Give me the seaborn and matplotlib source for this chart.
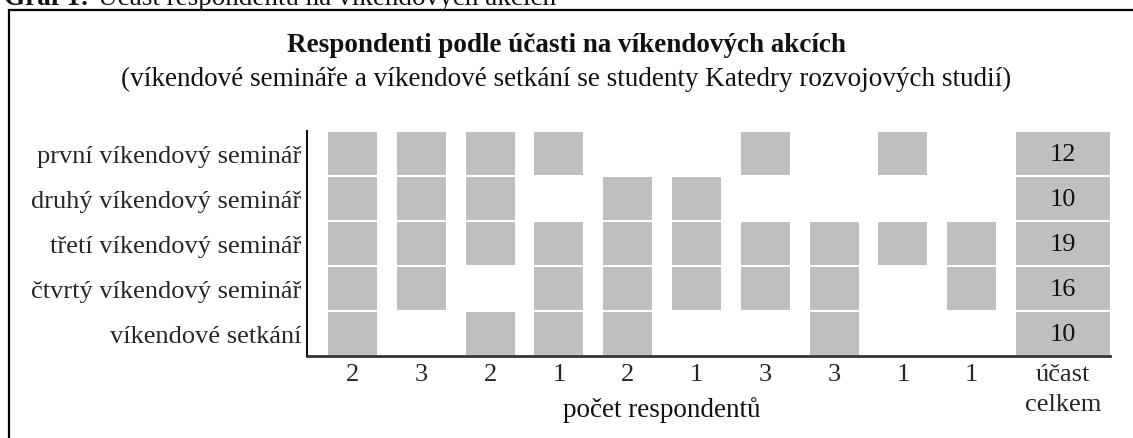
import matplotlib.pyplot as plt
import pandas as pd
import seaborn as sns
from matplotlib.patches import Rectangle
from matplotlib.transforms import blended_transform_factory

# values
events = [
    "první víkendový seminář",
    "druhý víkendový seminář",
    "třetí víkendový seminář",
    "čtvrtý víkendový seminář",
    "víkendové setkání",
]
group_sizes = [2, 3, 2, 1, 2, 1, 3, 3, 1, 1]
attendance = [
    [1, 1, 1, 1, 0, 0, 1, 0, 1, 0],
    [1, 1, 1, 0, 1, 1, 0, 0, 0, 0],
    [1, 1, 1, 1, 1, 1, 1, 1, 1, 1],
    [1, 1, 0, 1, 1, 1, 1, 1, 0, 1],
    [1, 0, 1, 1, 1, 0, 0, 1, 0, 0],
]
totals = [12, 10, 19, 16, 10]
total_label = "účast\ncelkem"

W, H = 1133, 439
GRAY = "#bfbfbf"

sns.set_theme(style="white")
plt.rcParams["font.family"] = ["Liberation Serif", "DejaVu Serif"]
plt.rcParams["text.color"] = "#111111"

rows = []
for r, event in enumerate(events):
    for g, present in enumerate(attendance[r]):
        rows.append({"event": event, "row": len(events) - 1 - r, "group": g, "present": present})
cells = pd.DataFrame(rows)
cells = cells[cells["present"] == 1]

fig = plt.figure(figsize=(W / 100, H / 100), dpi=100)
ax = fig.add_axes([307 / W, (H - 357) / H, (1110 - 307) / W, 225 / H])

ax.bar(cells["group"], 0.955, bottom=cells["row"] + 0.02, width=0.71, color=GRAY, linewidth=0)

total_x = 10.33
total_rows = [len(events) - 1 - r for r in range(len(events))]
ax.bar([total_x] * len(totals), 0.955, bottom=[y + 0.02 for y in total_rows], width=1.37,
       color=GRAY, linewidth=0)
for y, t in zip(total_rows, totals):
    ax.text(total_x, y + 0.48, str(t), ha="center", va="center", fontsize=19)

ax.set_xlim(-0.661, 11.01)
ax.set_ylim(0, len(events))
ax.set_yticks([y + 0.5 for y in total_rows])
ax.set_yticklabels(events, fontsize=19)
ax.set_xticks(list(range(len(group_sizes))) + [total_x])
ax.set_xticklabels([str(s) for s in group_sizes] + [total_label], fontsize=19)
for lab in ax.get_xticklabels():
    lab.set_linespacing(1.5)
ax.tick_params(axis="both", length=0)
ax.tick_params(axis="x", pad=5)
ax.tick_params(axis="y", pad=4)
sns.despine(ax=ax)
ax.spines["left"].set_color("#111111")
ax.spines["left"].set_linewidth(1.5)
ax.spines["bottom"].set_color("#333333")
ax.spines["bottom"].set_linewidth(2)

trans = blended_transform_factory(ax.transData, fig.transFigure)
ax.text((len(group_sizes) - 1) / 2, 1 - 410 / H, "počet respondentů", transform=trans,
        ha="center", va="center", fontsize=19.5)

fig.text(0.5, 1 - 46 / H, "Respondenti podle účasti na víkendových akcích",
         ha="center", va="center", fontsize=19.5, fontweight="bold")
fig.text(0.5, 1 - 79 / H,
         "(víkendové semináře a víkendové setkání se studenty Katedry rozvojových studií)",
         ha="center", va="center", fontsize=19.5)

# caption above the framed figure, cut off by the top edge as in the source
fig.text(4 / W, 1 - 5 / H, "Graf 1:", ha="left", va="baseline", fontsize=19.5, fontweight="bold")
fig.text(98 / W, 1 - 5 / H, "Účast respondentů na víkendových akcích", ha="left", va="baseline",
         fontsize=19.5)

fig.add_artist(Rectangle((9 / W, -0.1), 1.2, 1.1 - 11 / H, transform=fig.transFigure,
                         fill=False, edgecolor="black", linewidth=1.6, clip_on=False))

fig.savefig("out.png", dpi=100)
